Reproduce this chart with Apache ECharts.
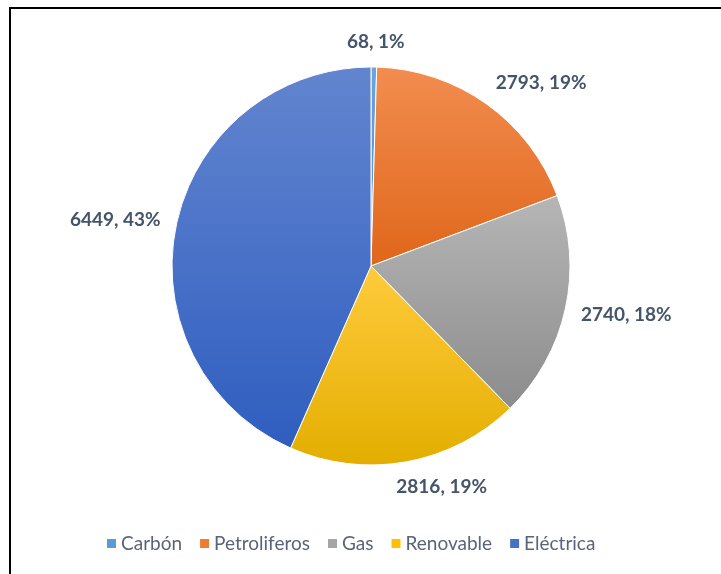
<!DOCTYPE html>
<html>
<head>
<meta charset="utf-8">
<script src="https://cdn.jsdelivr.net/npm/echarts@6/dist/echarts.min.js"></script>
<style>
  html, body { margin: 0; padding: 0; background: #fff; }
  #chart { width: 721px; height: 574px; }
</style>
</head>
<body>
<div id="chart"></div>
<script>
// Energy consumption by source
const categories = ['Carbón', 'Petroliferos', 'Gas', 'Renovable', 'Eléctrica'];
const values = [68, 2793, 2740, 2816, 6449];
const percents = [1, 19, 18, 19, 43];

// slice colours: light (top) -> dark (bottom)
const topColors = ['#6AA5DC', '#F28D50', '#B6B6B6', '#FFCB3C', '#6385CF'];
const bottomColors = ['#4F8FCB', '#E0661A', '#8C8C8C', '#E3AE00', '#2F5EC0'];
const legendColors = ['#5B9BD5', '#ED7D31', '#A5A5A5', '#FFC000', '#4472C4'];

const CX = 371, CY = 266, R = 199;
const total = values.reduce((a, b) => a + b, 0);

// mid angle of each slice, clockwise from 12 o'clock
const midAngles = [];
let acc = 0;
values.forEach(v => {
  midAngles.push((acc + v / 2) / total * Math.PI * 2);
  acc += v;
});

const clamp = v => Math.max(-1, Math.min(1, v));

const chart = echarts.init(document.getElementById('chart'), null, { renderer: 'canvas' });

chart.setOption({
  animation: false,
  backgroundColor: '#fff',
  color: legendColors,
  graphic: [{
    type: 'rect',
    shape: { x: 10, y: 8, width: 900, height: 800 },
    style: { fill: 'none', stroke: '#000', lineWidth: 2 },
    silent: true,
    z: 100
  }],
  legend: {
    left: 100,
    top: 529,
    itemWidth: 11,
    itemHeight: 11,
    itemGap: 16,
    icon: 'rect',
    textStyle: { fontFamily: 'Lato', fontSize: 19, color: '#5A6478', padding: [0, 0, 0, -1] },
    data: categories.map((c, i) => ({ name: c, itemStyle: { color: legendColors[i] } }))
  },
  series: [{
    type: 'pie',
    center: [CX, CY],
    radius: [0, R],
    startAngle: 90,
    clockwise: true,
    avoidLabelOverlap: false,
    label: {
      show: true,
      position: 'outside',
      fontFamily: 'Lato',
      fontWeight: 'bold',
      fontSize: 19,
      color: '#44546A',
      formatter: p => values[p.dataIndex] + ', ' + percents[p.dataIndex] + '%'
    },
    labelLine: { show: false },
    labelLayout: function (p) {
      const a = midAngles[p.dataIndex];
      const ux = Math.sin(a), uy = -Math.cos(a);
      const w = p.labelRect.width, h = p.labelRect.height;
      const d = R + 16;
      const ax = CX + d * ux, ay = CY + d * uy;
      return {
        x: ax + clamp(4 * ux) * w / 2,
        y: ay + clamp(1.1 * uy) * h / 2,
        align: 'center',
        verticalAlign: 'middle'
      };
    },
    itemStyle: { borderColor: '#fff', borderWidth: 1 },
    emphasis: { disabled: true },
    data: categories.map((c, i) => ({
      name: c,
      value: values[i],
      itemStyle: {
        color: new echarts.graphic.LinearGradient(0, 0, 0, 1, [
          { offset: 0, color: topColors[i] },
          { offset: 1, color: bottomColors[i] }
        ])
      }
    }))
  }]
});
</script>
</body>
</html>
